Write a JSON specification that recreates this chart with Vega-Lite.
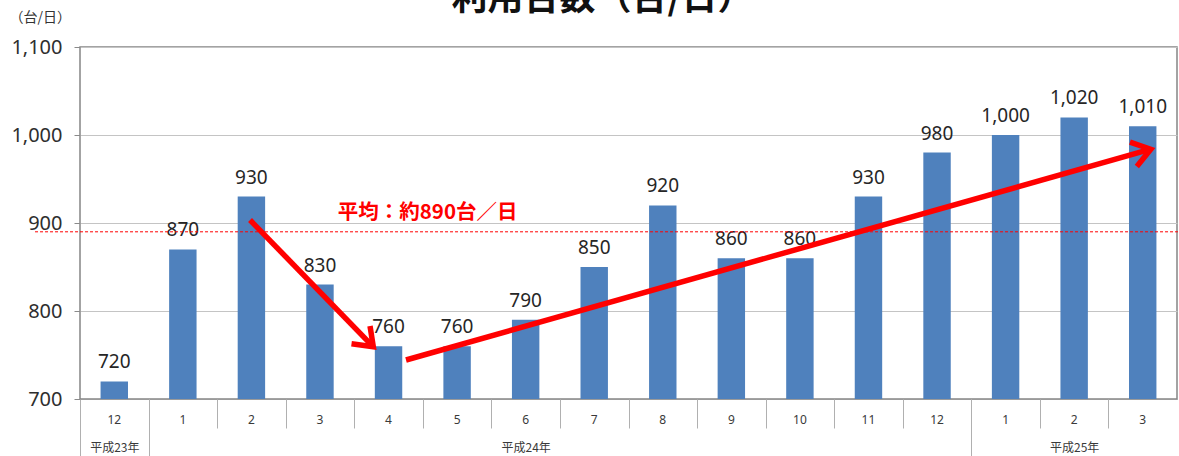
{
  "$schema": "https://vega.github.io/schema/vega-lite/v6.json",
  "width": 1097,
  "height": 352,
  "autosize": {"type": "none"},
  "padding": {"left": 80, "top": 47, "right": 2, "bottom": 57},
  "background": "white",
  "config": {
    "view": {"stroke": "#858585", "strokeWidth": 1.5},
    "font": "Noto Sans CJK JP"
  },
  "title": {
    "text": "利用台数（台/日）",
    "fontSize": 36,
    "font": "Noto Sans CJK JP",
    "fontWeight": "bold",
    "color": "#111111",
    "anchor": "middle",
    "dx": -26,
    "offset": -8
  },
  "datasets": {
    "months": [
      {"key": "H23-12", "value": 720},
      {"key": "H24-1", "value": 870},
      {"key": "H24-2", "value": 930},
      {"key": "H24-3", "value": 830},
      {"key": "H24-4", "value": 760},
      {"key": "H24-5", "value": 760},
      {"key": "H24-6", "value": 790},
      {"key": "H24-7", "value": 850},
      {"key": "H24-8", "value": 920},
      {"key": "H24-9", "value": 860},
      {"key": "H24-10", "value": 860},
      {"key": "H24-11", "value": 930},
      {"key": "H24-12", "value": 980},
      {"key": "H25-1", "value": 1000},
      {"key": "H25-2", "value": 1020},
      {"key": "H25-3", "value": 1010}
    ],
    "arrows": [
      {"seg": "a1", "o": 0, "x": 2.48, "value": 903.4},
      {"seg": "a1", "o": 1, "x": 4.25, "value": 761.5},
      {"seg": "h1", "o": 0, "x": 3.96, "value": 762.8},
      {"seg": "h1", "o": 1, "x": 4.278, "value": 759.4},
      {"seg": "h1", "o": 2, "x": 4.23, "value": 783.0},
      {"seg": "a2", "o": 0, "x": 4.755, "value": 744.3},
      {"seg": "a2", "o": 1, "x": 15.58, "value": 983.0},
      {"seg": "h2", "o": 0, "x": 15.314, "value": 991.9},
      {"seg": "h2", "o": 1, "x": 15.617, "value": 983.8},
      {"seg": "h2", "o": 2, "x": 15.414, "value": 964.3}
    ],
    "avg": [{"x": -0.656, "x2": 16.03, "value": 890}],
    "avgLabel": [{"x": 5.07, "value": 911.5, "text": "平均：約890台／日"}]
  },
  "resolve": {"scale": {"x": "independent"}, "axis": {"x": "independent"}},
  "layer": [
    {
      "data": {"name": "months"},
      "mark": {"type": "bar", "color": "#4F81BD", "clip": true},
      "encoding": {
        "x": {
          "field": "key",
          "type": "nominal",
          "sort": null,
          "scale": {"paddingInner": 0.6, "paddingOuter": 0.3},
          "axis": {
            "title": null,
            "orient": "bottom",
            "ticks": false,
            "tickSize": 0,
            "domain": true,
            "domainColor": "#9a9a9a",
            "labelAngle": 0,
            "labelExpr": "split(datum.value, '-')[1]",
            "labelFont": "Noto Sans",
            "labelFontSize": 12,
            "labelColor": "#3a3a3a",
            "labelBaseline": "middle",
            "labelPadding": 20
          }
        },
        "y": {
          "field": "value",
          "type": "quantitative",
          "title": "（台/日）",
          "scale": {"domain": [700, 1100], "zero": false, "nice": false},
          "axis": {
            "values": [700, 800, 900, 1000, 1100],
            "format": ",.0f",
            "domain": false,
            "grid": true,
            "gridColor": "#c4c4c4",
            "gridWidth": 1,
            "tickColor": "#8a8a8a",
            "tickSize": 6,
            "labelFont": "Noto Sans",
            "labelFontSize": 20,
            "labelColor": "#2e2e2e",
            "labelPadding": 12,
            "titleAngle": 0,
            "titleAlign": "left",
            "titleBaseline": "middle",
            "titleX": -71,
            "titleY": -30,
            "titleFont": "Noto Sans CJK JP",
            "titleFontSize": 14,
            "titleFontWeight": "normal",
            "titleColor": "#333333"
          }
        }
      }
    },
    {
      "data": {"name": "months"},
      "mark": {"type": "text", "baseline": "bottom", "dy": -9, "font": "Noto Sans", "fontSize": 19, "color": "#262626"},
      "encoding": {
        "x": {
          "field": "key",
          "type": "nominal",
          "sort": null,
          "scale": {"paddingInner": 0.6, "paddingOuter": 0.3},
          "axis": null
        },
        "y": {"field": "value", "type": "quantitative", "title": "（台/日）", "scale": {"domain": [700, 1100], "zero": false, "nice": false}},
        "text": {"field": "value", "type": "quantitative", "format": ","}
      }
    },
    {
      "data": {"name": "avg"},
      "mark": {"type": "rule", "color": "#ff0000", "strokeWidth": 1, "strokeDash": [3, 2], "clip": false},
      "encoding": {
        "x": {
          "field": "x",
          "type": "quantitative",
          "scale": {"domain": [0, 16], "zero": false, "nice": false},
          "axis": {
            "title": null,
            "orient": "bottom",
            "values": [0, 1, 13],
            "labels": false,
            "domain": false,
            "grid": false,
            "ticks": true,
            "tickSize": 57,
            "tickColor": "#b0b0b0",
            "tickWidth": 1
          }
        },
        "x2": {"field": "x2"},
        "y": {"field": "value", "type": "quantitative", "title": "（台/日）", "scale": {"domain": [700, 1100], "zero": false, "nice": false}}
      }
    },
    {
      "data": {"name": "avgLabel"},
      "mark": {"type": "text", "color": "#ff0000", "font": "Noto Sans CJK JP", "fontWeight": "bold", "fontSize": 20.5, "baseline": "middle"},
      "encoding": {
        "x": {
          "field": "x",
          "type": "quantitative",
          "scale": {"domain": [0, 16], "zero": false, "nice": false},
          "axis": {
            "title": null,
            "orient": "bottom",
            "values": [0.5, 6.5, 14.5],
            "labelExpr": "datum.value < 1 ? '平成23年' : (datum.value < 10 ? '平成24年' : '平成25年')",
            "labelOverlap": false,
            "labelFlush": false,
            "labelBound": false,
            "labelFont": "Noto Sans CJK JP",
            "labelFontSize": 12,
            "labelColor": "#3a3a3a",
            "labelBaseline": "middle",
            "labelPadding": 48,
            "ticks": false,
            "tickSize": 0,
            "domain": false,
            "grid": false
          }
        },
        "y": {"field": "value", "type": "quantitative", "title": "（台/日）", "scale": {"domain": [700, 1100], "zero": false, "nice": false}},
        "text": {"field": "text"}
      }
    },
    {
      "data": {"name": "arrows"},
      "mark": {"type": "line", "color": "#ff0000", "strokeWidth": 5.5, "strokeCap": "butt", "strokeJoin": "miter", "clip": false},
      "encoding": {
        "x": {
          "field": "x",
          "type": "quantitative",
          "scale": {"domain": [0, 16], "zero": false, "nice": false},
          "axis": {
            "title": null,
            "orient": "bottom",
            "values": [1, 2, 3, 4, 5, 6, 7, 8, 9, 10, 11, 12, 13, 14, 15],
            "labels": false,
            "domain": false,
            "grid": false,
            "ticks": true,
            "tickSize": 29,
            "tickColor": "#b0b0b0",
            "tickWidth": 1
          }
        },
        "y": {"field": "value", "type": "quantitative", "title": "（台/日）", "scale": {"domain": [700, 1100], "zero": false, "nice": false}},
        "detail": {"field": "seg"},
        "order": {"field": "o"}
      }
    }
  ]
}
